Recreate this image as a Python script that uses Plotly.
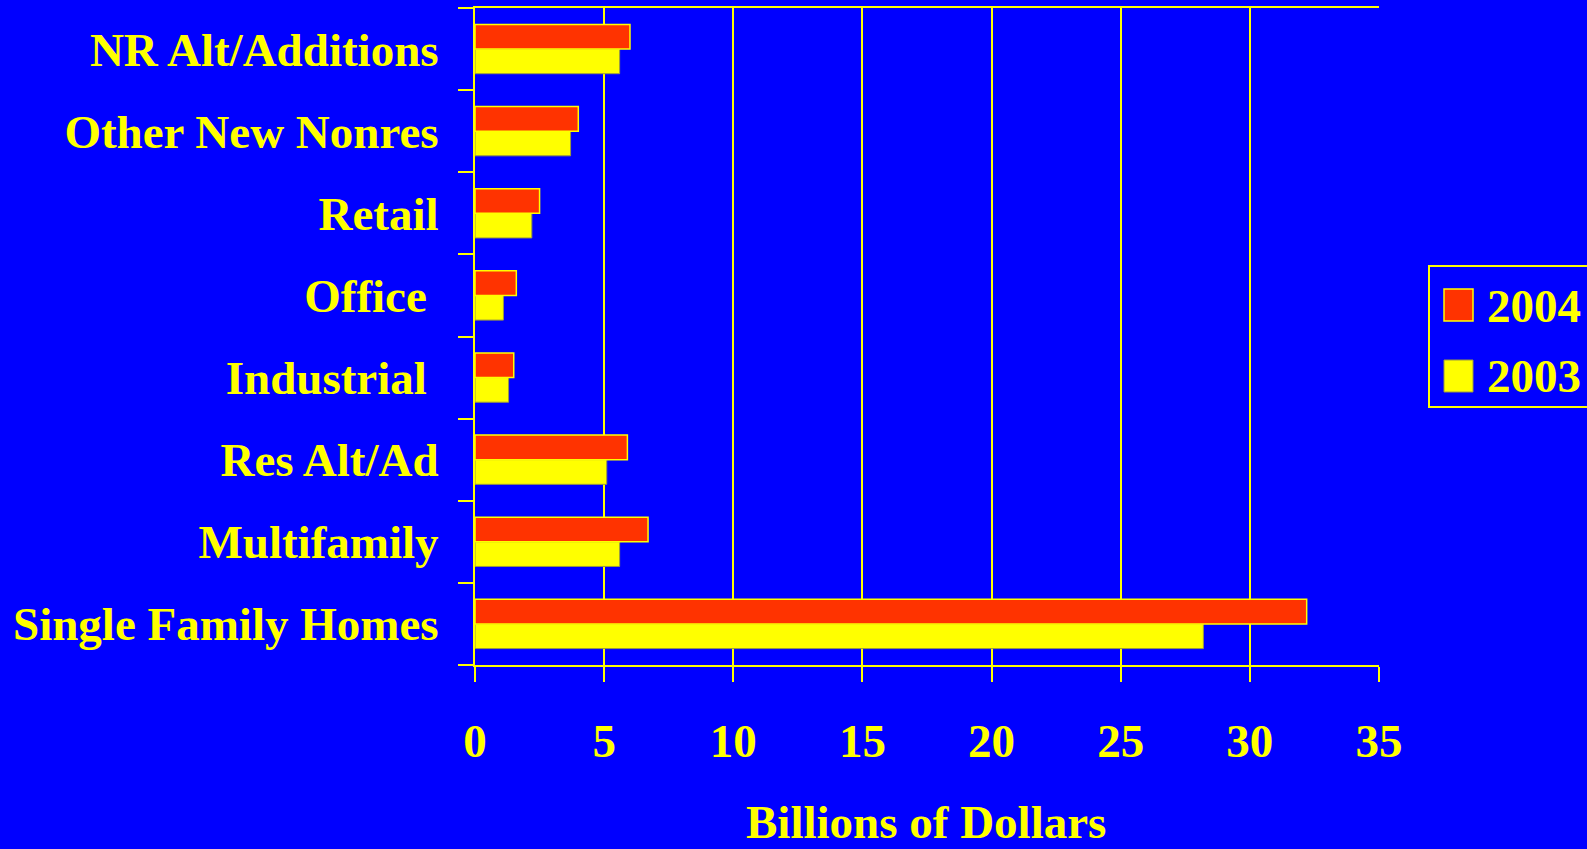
import plotly.graph_objects as go

categories = ["Single Family Homes", "Multifamily", "Res Alt/Ad", "Industrial\u00a0",
              "Office\u00a0", "Retail", "Other New Nonres", "NR Alt/Additions"]
values_2003 = [28.2, 5.6, 5.1, 1.3, 1.1, 2.2, 3.7, 5.6]
values_2004 = [32.2, 6.7, 5.9, 1.5, 1.6, 2.5, 4.0, 6.0]
x_ticks = [0, 5, 10, 15, 20, 25, 30, 35]
legend_names = ["2004", "2003"]
x_title = "Billions of Dollars"

BLUE = "#0000FF"
YEL = "#FFFF00"
RED = "#FF3300"
FONT = "Liberation Serif"
FS = 47

# plot area in pixels (for paper-coordinate conversion of the custom legend)
L, R, T, B = 475, 1379, 8, 665
def px(x):
    return (x - L) / (R - L)
def py(y):
    return (B - y) / (B - T)

fig = go.Figure()
fig.add_trace(go.Bar(y=categories, x=values_2003, orientation="h", name="2003",
                     marker=dict(color=YEL, line=dict(color="#9a9a40", width=1)),
                     showlegend=False))
fig.add_trace(go.Bar(y=categories, x=values_2004, orientation="h", name="2004",
                     marker=dict(color=RED, line=dict(color=YEL, width=1.5)),
                     showlegend=False))

# custom legend (box, swatches, labels)
shapes = [
    dict(type="rect", xref="paper", yref="paper", x0=px(1429), x1=px(1620),
         y0=py(266), y1=py(407), line=dict(color=YEL, width=2), fillcolor=BLUE, layer="above"),
    dict(type="rect", xref="paper", yref="paper", x0=px(1444), x1=px(1473),
         y0=py(289), y1=py(321), line=dict(color=YEL, width=1.5), fillcolor=RED, layer="above"),
    dict(type="rect", xref="paper", yref="paper", x0=px(1444), x1=px(1473),
         y0=py(360), y1=py(392), line=dict(color="#9a9a40", width=1), fillcolor=YEL, layer="above"),
]
bold = dict(family=FONT, size=FS, color=YEL, weight="bold")
annotations = [
    dict(text=legend_names[0], xref="paper", yref="paper", x=px(1485), y=py(306),
         xanchor="left", yanchor="middle", showarrow=False, font=bold),
    dict(text=legend_names[1], xref="paper", yref="paper", x=px(1485), y=py(376),
         xanchor="left", yanchor="middle", showarrow=False, font=bold),
    dict(text=x_title, xref="paper", yref="paper", x=px(926), y=py(822),
         xanchor="center", yanchor="middle", showarrow=False, font=bold),
]

fig.update_layout(
    width=1587, height=849,
    paper_bgcolor=BLUE, plot_bgcolor=BLUE,
    barmode="group", bargap=0.4, bargroupgap=0,
    margin=dict(l=L, r=1587 - R, t=T, b=849 - B, autoexpand=False),
    font=dict(family=FONT, color=YEL, size=FS),
    showlegend=False,
    shapes=shapes, annotations=annotations,
    xaxis=dict(range=[0, 35], tickvals=x_ticks, showgrid=True, gridcolor=YEL, gridwidth=1.5,
               showline=True, linecolor=YEL, linewidth=2, mirror=True,
               ticks="outside", ticklen=15, tickcolor=YEL, tickwidth=1.5,
               ticklabelstandoff=19, zeroline=False, automargin=False,
               tickfont=bold),
    yaxis=dict(showgrid=False, showline=True, linecolor=YEL, linewidth=2, mirror=False,
               ticks="outside", ticklen=15, tickcolor=YEL, tickwidth=2,
               tickson="boundaries", ticklabelstandoff=25, automargin=False,
               tickfont=bold),
)

fig.write_html("out.html", config={"displayModeBar": False},
               post_script="document.body.style.margin='0';document.body.style.background='#0000FF';")
